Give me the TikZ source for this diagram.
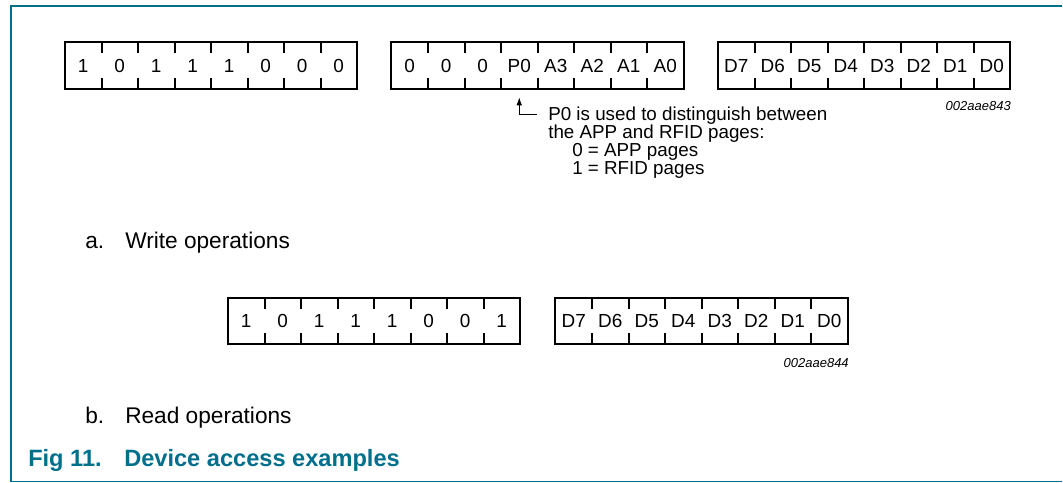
\documentclass[tikz,border=0pt]{standalone}
\usepackage{fontspec}
\setmainfont{Liberation Sans}
\usetikzlibrary{arrows.meta}
\usetikzlibrary{positioning}
\definecolor{nxpteal}{RGB}{0,111,140}
\tikzset{
    bitcell/.style = {rectangle, inner sep=0pt, minimum width=27.4pt, minimum height=34.5pt, text height=10pt, text depth=0pt, font=\fontsize{14.2}{16}\selectfont},
    regbox/.style = {line width=1.7pt, draw=black},
    bittick/.style = {line width=1.3pt, draw=black},
    notetext/.style = {anchor=west, inner sep=0pt, text height=10pt, text depth=0pt, font=\fontsize{14.1}{17}\selectfont},
    figid/.style = {anchor=east, inner sep=0pt, text height=7pt, text depth=0pt, font=\fontsize{9.75}{12}\selectfont\itshape},
    sublabel/.style = {anchor=west, inner sep=0pt, text height=12.2pt, text depth=0pt, font=\fontsize{17}{20}\selectfont},
    captext/.style = {anchor=west, inner sep=0pt, text height=12.5pt, text depth=0pt, text=nxpteal, font=\fontsize{17.7}{20}\selectfont\bfseries},
    pointer/.style = {-{Latex[length=6pt,width=4.2pt]}, line width=0.7pt, shorten >=6.4pt, shorten <=8.2pt},
    frameline/.style = {draw=nxpteal, line width=1.4pt}
}

\begin{document}
\begin{tikzpicture}[x=0.75pt, y=-0.75pt]
  \useasboundingbox (0,0) rectangle (1063,482);
  \draw[frameline] (1062,6) -- (11,6) -- (11,481.5) -- (1062,481.5);

  % write: command byte
  \foreach \t [count=\i] in {1,0,1,1,1,0,0,0}
    \node[bitcell] (cw\i) at ({65+(\i-0.5)*36.5},65.5) {\t};
  \draw[regbox] (cw1.north west) rectangle (cw8.south east);
  \foreach \i in {1,...,7}
    \draw[bittick] (cw\i.north east) -- ++(0,11) (cw\i.south east) -- ++(0,-11);

  % write: address byte
  \foreach \t [count=\i] in {0,0,0,P0,A3,A2,A1,A0}
    \node[bitcell] (ad\i) at ({391.5+(\i-0.5)*36.5},65.5) {\t};
  \draw[regbox] (ad1.north west) rectangle (ad8.south east);
  \foreach \i in {1,...,7}
    \draw[bittick] (ad\i.north east) -- ++(0,11) (ad\i.south east) -- ++(0,-11);

  % write: data byte
  \foreach \t [count=\i] in {D7,D6,D5,D4,D3,D2,D1,D0}
    \node[bitcell] (dw\i) at ({718+(\i-0.5)*36.5},65.5) {\t};
  \draw[regbox] (dw1.north west) rectangle (dw8.south east);
  \foreach \i in {1,...,7}
    \draw[bittick] (dw\i.north east) -- ++(0,11) (dw\i.south east) -- ++(0,-11);

  \node[figid] (id1) at (1011,106) {002aae843};

  \node[notetext] (note1) at (548,114) {P0 is used to distinguish between};
  \node[notetext] (note2) at (548,132) {the APP and RFID pages:};
  \node[notetext] (note3) at (572,150) {0 = APP pages};
  \node[notetext] (note4) at (572,168) {1 = RFID pages};
  \draw[pointer] (note1.west) -| (ad4.south);

  \node[sublabel] (suba) at (85,240) {a.};
  \node[sublabel] (subatext) at (125,240) {Write operations};

  % read: command byte
  \foreach \t [count=\i] in {1,0,1,1,1,0,0,1}
    \node[bitcell] (cr\i) at ({228+(\i-0.5)*36.5},321) {\t};
  \draw[regbox] (cr1.north west) rectangle (cr8.south east);
  \foreach \i in {1,...,7}
    \draw[bittick] (cr\i.north east) -- ++(0,11) (cr\i.south east) -- ++(0,-11);

  % read: data byte
  \foreach \t [count=\i] in {D7,D6,D5,D4,D3,D2,D1,D0}
    \node[bitcell] (dr\i) at ({555.5+(\i-0.5)*36.5},321) {\t};
  \draw[regbox] (dr1.north west) rectangle (dr8.south east);
  \foreach \i in {1,...,7}
    \draw[bittick] (dr\i.north east) -- ++(0,11) (dr\i.south east) -- ++(0,-11);

  \node[figid] (id2) at (849,363) {002aae844};

  \node[sublabel] (subb) at (85,415) {b.};
  \node[sublabel] (subbtext) at (125,415) {Read operations};

  \node[captext] (capnum) at (28,458) {Fig 11.};
  \node[captext] (captitle) at (124,458) {Device access examples};
\end{tikzpicture}
\end{document}
